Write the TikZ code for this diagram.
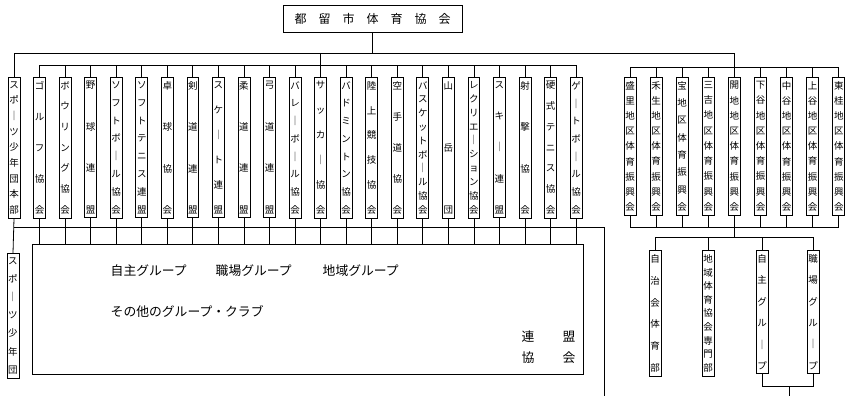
\documentclass[tikz,border=0pt]{standalone}
\usepackage{fontspec}
\setmainfont{Noto Sans CJK JP}
\usetikzlibrary{positioning}

% vertical text: characters spread over a fixed height
\newif\iftatefirst
\def\tatestep#1{\ifx#1\relax\else
  \iftatefirst\global\tatefirstfalse\else\vfill\fi
  \hbox to 1em{\hss#1\hss}\expandafter\tatestep\fi}
\newcommand\tate[2]{\parbox[c][#1][s]{1em}{\global\tatefirsttrue\expandafter\tatestep#2\relax}}
\newcommand\kanspace{\hskip 12pt}

\begin{document}
\begin{tikzpicture}[x=1pt,y=-1pt,line width=0.8pt,
  org box/.style={draw,inner xsep=1.2pt,inner ysep=4pt,anchor=north,
    font=\fontsize{9.5}{11}\selectfont},
  group text/.style={anchor=west,font=\fontsize{12.8}{14}\selectfont}]
\useasboundingbox (0,0) rectangle (845,396);

% bus heights
\coordinate (mainbus) at (0,53);
\coordinate (lbus) at (0,65);
\coordinate (rbus) at (0,67);
\coordinate (lowbus) at (0,227);
\coordinate (rlow2) at (0,237);
\coordinate (foot) at (0,386);
\coordinate (exitl) at (604,396);
\coordinate (exitr) at (789,396);

\node[draw,minimum width=179,minimum height=27,font=\fontsize{12}{14}\selectfont]
  (top) at (372.5,18.5) {都\kanspace 留\kanspace 市\kanspace 体\kanspace 育\kanspace 協\kanspace 会};

% sports associations
\foreach \lbl [count=\i from 0] in {スポ｜ツ少年団本部,ゴルフ協会,ボウリング協会,野球連盟,
    ソフトボ｜ル協会,ソフトテニス連盟,卓球協会,剣道連盟,スケ｜ト連盟,柔道連盟,弓道連盟,
    バレ｜ボ｜ル協会,サッカ｜協会,バドミントン協会,陸上競技協会,空手道協会,
    バスケットボ｜ル協会,山岳団,レクリエ｜ション協会,スキ｜連盟,射撃協会,
    硬式テニス協会,ゲ｜トボ｜ル協会}{
  \node[org box](s\i) at ({14+25.55*\i},77) {\tate{132pt}{\lbl}};}

% district associations
\foreach \lbl [count=\i] in {盛里地区体育振興会,禾生地区体育振興会,宝地区体育振興会,
    三吉地区体育振興会,開地地区体育振興会,下谷地区体育振興会,中谷地区体育振興会,
    上谷地区体育振興会,東桂地区体育振興会}{
  \node[org box](d\i) at ({630+26.1*(\i-1)},77) {\tate{129pt}{\lbl}};}

\node[org box](b1) at (655,250) {\tate{117pt}{自治会体育部}};
\node[org box](b2) at (708,250) {\tate{117pt}{地域体育協会専門部}};
\node[org box](b3) at (762,250) {\tate{115pt}{自主グル｜プ}};
\node[org box](b4) at (813,250) {\tate{115pt}{職場グル｜プ}};

\node[org box](jr) at (13,253) {\tate{116pt}{スポ｜ツ少年団}};

% groups box
\node[draw,minimum width=551,minimum height=130,anchor=north west] (grp) at (32,244) {};
\node[group text] (g1) at (107,271) {自主グループ};
\node[group text] (g2) at (212,271) {職場グループ};
\node[group text] (g3) at (319,271) {地域グループ};
\node[group text] (g4) at (107,312) {その他のグループ・クラブ};
\node[group text] (g5) at (518,337) {連};
\node[group text] (g6) at (559,337) {盟};
\node[group text] (g7) at (518,358) {協};
\node[group text] (g8) at (559,358) {会};

% upper connectors
\draw (top.south) -- (top.south |- mainbus);
\draw (s0.north) |- (d5 |- mainbus) -- (d5.north);
\draw (s12 |- mainbus) -- (s12.north);
\draw (s1 |- lbus) -- (s22 |- lbus);
\foreach \i in {1,...,22}
  \draw (s\i.north) -- (s\i |- lbus);
\draw (d1 |- rbus) -- (d9 |- rbus);
\foreach \i in {1,...,9}
  \draw (d\i.north) -- (d\i |- rbus);

% lower connectors, left
\draw (s0.south) -- (jr.north);
\foreach \i in {1,...,22}
  \draw (s\i.south) -- (s\i |- grp.north);
\draw (s0 |- lowbus) -- (exitl |- lowbus) -- (exitl);

% lower connectors, right
\foreach \i in {1,...,9}
  \draw (d\i.south) -- (d\i |- lowbus);
\draw (d1 |- lowbus) -- (d9 |- lowbus);
\draw (d5 |- lowbus) -- (d5 |- rlow2);
\draw (b1 |- rlow2) -- (b4 |- rlow2);
\foreach \i in {1,...,4}
  \draw (b\i |- rlow2) -- (b\i.north);
\draw (b3.south) |- (b4 |- foot) -- (b4.south);
\draw (exitr |- foot) -- (exitr);
\end{tikzpicture}
\end{document}
